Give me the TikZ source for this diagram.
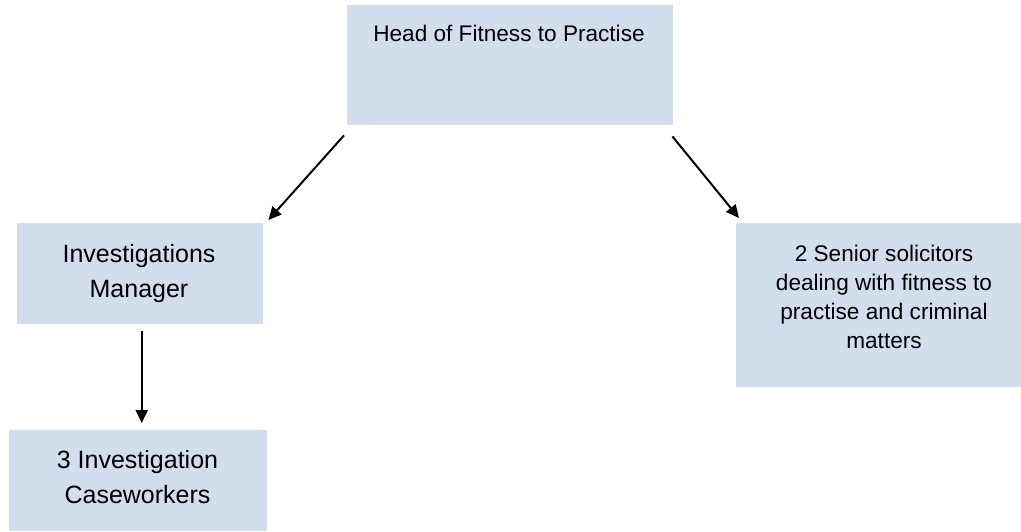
\documentclass[tikz,border=0pt]{standalone}
\usepackage{fontspec}
\setmainfont{Liberation Sans}
\usetikzlibrary{arrows.meta}
\definecolor{boxfill}{RGB}{210,222,238}
\begin{document}
\begin{tikzpicture}[x=1pt,y=-1pt,
  box/.style={fill=boxfill, draw=none, inner sep=0pt, anchor=north west},
  lbl/.style={align=center, inner sep=0pt, anchor=base, text=black},
  big/.style={font={\fontsize{25}{34.5}\selectfont}},
  small/.style={font={\fontsize{22.6}{29}\selectfont}},
  conn/.style={-{Triangle[length=13pt,width=12pt]}, line width=2pt, black}]
\useasboundingbox (0,0) rectangle (1021,531);
\node[box, minimum width=326pt, minimum height=120pt] (head) at (347,5) {};
\node[box, minimum width=246pt, minimum height=101pt] (man) at (17,223) {};
\node[box, minimum width=258pt, minimum height=101pt] (cw) at (9,430) {};
\node[box, minimum width=285pt, minimum height=164pt] (sol) at (736,223) {};
\node[lbl, small] (headtxt) at (509,41.7) {Head of Fitness to Practise};
\node[lbl, big] (mantxt) at (139,297) {Investigations\\Manager};
\node[lbl, big] (cwtxt) at (137.5,503) {3 Investigation\\Caseworkers};
\node[lbl, small] (soltxt) at (884,348) {2 Senior solicitors\\dealing with fitness to\\practise and criminal\\matters};
\draw[conn] ([shift={(-3,10)}]head.south west) -- ([shift={(5,-3)}]man.north east);
\draw[conn] ([shift={(-1,11)}]head.south east) -- ([shift={(3,-5)}]sol.north west);
\draw[conn] ([shift={(1.5,7)}]man.south) -- ([shift={(1.5,-7)}]man.south |- cw.north);
\end{tikzpicture}
\end{document}
